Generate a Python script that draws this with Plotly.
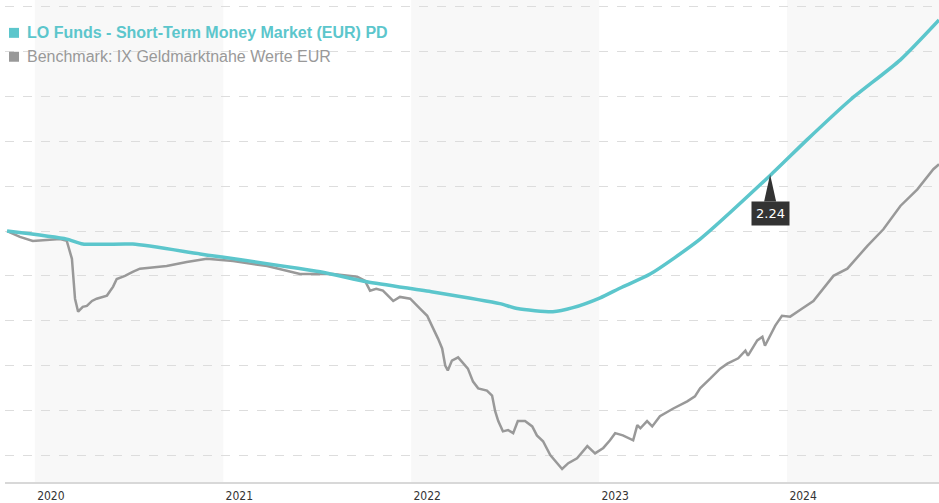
import plotly.graph_objects as go

# ---- data ----
fund_dates = ["2019-11-08", "2020-03-03", "2020-04-03", "2020-07-09", "2020-11-17",
              "2021-07-08", "2021-10-07", "2022-02-12", "2022-06-22", "2022-07-26",
              "2022-10-03", "2022-11-11", "2023-01-03", "2023-02-11", "2023-04-10",
              "2023-07-16", "2023-11-29", "2024-02-09", "2024-05-03", "2024-08-08",
              "2024-10-22"]
fund_values = [1.00, 0.82, 0.71, 0.71, 0.49,
               0.09, -0.13, -0.36, -0.62, -0.73,
               -0.80, -0.71, -0.49, -0.27, 0.04,
               0.82, 2.24, 3.04, 3.93, 4.82,
               5.71]

bench_dates = ["2019-11-08", "2019-12-03", "2019-12-28", "2020-02-19", "2020-03-03",
               "2020-03-13", "2020-03-19", "2020-03-25", "2020-04-03", "2020-04-11",
               "2020-04-21", "2020-04-30", "2020-05-20", "2020-06-01", "2020-06-08",
               "2020-06-24", "2020-07-09", "2020-07-23", "2020-08-11", "2020-09-13",
               "2020-10-22", "2020-11-30", "2021-01-20", "2021-03-27", "2021-05-30",
               "2021-08-02", "2021-09-18", "2021-10-03", "2021-10-13", "2021-10-25",
               "2021-11-07", "2021-11-27",
               "2021-12-10", "2021-12-30", "2022-01-18", "2022-02-01", "2022-02-10",
               "2022-02-16", "2022-02-22", "2022-03-02", "2022-03-08", "2022-03-13",
               "2022-03-21", "2022-04-02", "2022-04-12", "2022-04-21", "2022-05-01",
               "2022-05-11", "2022-05-28", "2022-06-07", "2022-06-13", "2022-06-19",
               "2022-06-28", "2022-07-08", "2022-07-18", "2022-07-27", "2022-08-10",
               "2022-08-24", "2022-09-02", "2022-09-14", "2022-09-28", "2022-10-11",
               "2022-10-21", "2022-11-02", "2022-11-19", "2022-12-09", "2022-12-24",
               "2023-01-09", "2023-01-22", "2023-02-01", "2023-02-16", "2023-03-08",
               "2023-03-16", "2023-03-22", "2023-04-04", "2023-04-14", "2023-04-29",
               "2023-05-25", "2023-06-21", "2023-07-06", "2023-07-16", "2023-08-05",
               "2023-08-24", "2023-09-07", "2023-09-28", "2023-10-12", "2023-10-17",
               "2023-11-04", "2023-11-14", "2023-11-19", "2023-11-29", "2023-12-09",
               "2023-12-22", "2024-01-07", "2024-01-26", "2024-02-21",
               "2024-03-31", "2024-04-27", "2024-06-05", "2024-07-06", "2024-08-08",
               "2024-09-10", "2024-10-11", "2024-10-22"]
bench_values = [1.00, 0.87, 0.78, 0.82, 0.78,
                0.38, -0.51, -0.80, -0.69, -0.67,
                -0.56, -0.51, -0.44, -0.24, -0.07,
                0.00, 0.09, 0.16, 0.18, 0.22,
                0.31, 0.38, 0.33, 0.22, 0.04,
                0.04, -0.02, -0.11, -0.33, -0.29,
                -0.33, -0.56,
                -0.47, -0.51, -0.73, -0.89, -1.11,
                -1.24, -1.40, -1.62, -2.00, -2.11,
                -1.89, -1.82, -1.96, -2.07, -2.36,
                -2.51, -2.56, -2.67, -3.02, -3.24,
                -3.47, -3.44, -3.51, -3.24, -3.24,
                -3.36, -3.56, -3.69, -4.00, -4.18,
                -4.31, -4.18, -4.07, -3.80, -3.96,
                -3.84, -3.67, -3.51, -3.56, -3.67,
                -3.33, -3.40, -3.24, -3.36, -3.13,
                -2.96, -2.80, -2.69, -2.51, -2.29,
                -2.07, -1.96, -1.84, -1.67, -1.78,
                -1.44, -1.36, -1.56, -1.33, -1.11,
                -0.89, -0.91, -0.76, -0.56,
                0.00, 0.16, 0.67, 1.04, 1.56,
                1.93, 2.38, 2.49]

fund_name = "LO Funds - Short-Term Money Market (EUR) PD"
bench_name = "Benchmark: IX Geldmarktnahe Werte EUR"

year_ticks = ["2020-01-01", "2021-01-01", "2022-01-01", "2023-01-01", "2024-01-01"]
year_labels = ["2020", "2021", "2022", "2023", "2024"]
shaded_years = [("2020-01-01", "2021-01-01"), ("2022-01-01", "2023-01-01"),
                ("2024-01-01", "2025-01-01")]

tooltip_date = "2023-11-29"
tooltip_value = 2.24

x_range = ["2019-11-04", "2024-10-22"]
y_range = [-4.6, 6.156]
y_grid = [-4, -3, -2, -1, 0, 1, 2, 3, 4, 5, 6]

TEAL = "#5cc6cc"
GREY = "#999999"
W, H = 939, 503

fig = go.Figure()
fig.add_trace(go.Scatter(x=bench_dates, y=bench_values, mode="lines",
                         line=dict(color=GREY, width=2.5), name=bench_name,
                         hoverinfo="skip"))
fig.add_trace(go.Scatter(x=fund_dates, y=fund_values, mode="lines",
                         line=dict(color=TEAL, width=3.5, shape="spline", smoothing=0.6),
                         name=fund_name, hoverinfo="skip"))

shapes = []
for a, b in shaded_years:
    shapes.append(dict(type="rect", xref="x", yref="paper", x0=a, x1=b, y0=0, y1=1,
                       fillcolor="#f8f8f8", line=dict(width=0), layer="below"))
# tooltip pointer triangle
shapes.append(dict(type="path", xref="x", yref="y", xsizemode="pixel", ysizemode="pixel",
                   xanchor=tooltip_date, yanchor=tooltip_value,
                   path="M 0 1 L -6 -26 L 6 -26 Z",
                   fillcolor="#333333", line=dict(width=0), layer="above"))

# legend squares (paper coords converted from pixels in a 484-px-high plot area)
ph = H - 19
pw = W - 5
def px_rect(x0, y0, x1, y1, color):
    return dict(type="rect", xref="paper", yref="paper",
                x0=(x0 - 5) / pw, x1=(x1 - 5) / pw,
                y0=1 - y1 / ph, y1=1 - y0 / ph,
                fillcolor=color, line=dict(width=0), layer="above")
shapes.append(px_rect(9, 28, 19, 38, TEAL))
shapes.append(px_rect(9, 52, 19, 62, GREY))

annotations = [
    dict(xref="paper", yref="paper", x=0.0, y=1, xanchor="left", yanchor="top",
         xshift=20, yshift=-22, showarrow=False, align="left",
         text="<b>" + fund_name + "</b>",
         font=dict(family="Liberation Sans, Arial", size=16, color=TEAL)),
    dict(xref="paper", yref="paper", x=0.0, y=1, xanchor="left", yanchor="top",
         xshift=20, yshift=-46, showarrow=False, align="left",
         text=bench_name,
         font=dict(family="Liberation Sans, Arial", size=16, color=GREY)),
    dict(xref="x", yref="y", x=tooltip_date, y=tooltip_value, xanchor="center",
         yanchor="top", yshift=-26, showarrow=False,
         text=f"{tooltip_value:.2f}", bgcolor="#333333", borderpad=4,
         font=dict(family="DejaVu Sans", size=13, color="white")),
]

fig.update_layout(
    width=W, height=H,
    margin=dict(l=5, r=0, t=0, b=19),
    paper_bgcolor="white", plot_bgcolor="white",
    showlegend=False,
    shapes=shapes,
    annotations=annotations,
    xaxis=dict(range=x_range, type="date", tickvals=year_ticks, ticktext=year_labels,
               showgrid=False, zeroline=False, showline=True, linecolor="#d8d8d8",
               linewidth=2, ticks="", ticklabelshift=16, ticklabelstandoff=2,
               tickfont=dict(family="DejaVu Sans Condensed, DejaVu Sans", size=12,
                             color="#333333")),
    yaxis=dict(range=y_range, tickvals=y_grid, showticklabels=False, showgrid=True,
               gridcolor="#dddddd", griddash="dash", gridwidth=1, zeroline=False,
               showline=False, ticks=""),
)

fig.write_html("out.html", config={"displayModeBar": False},
               post_script="document.body.style.margin='0px';"
               "document.body.style.overflow='hidden';")
